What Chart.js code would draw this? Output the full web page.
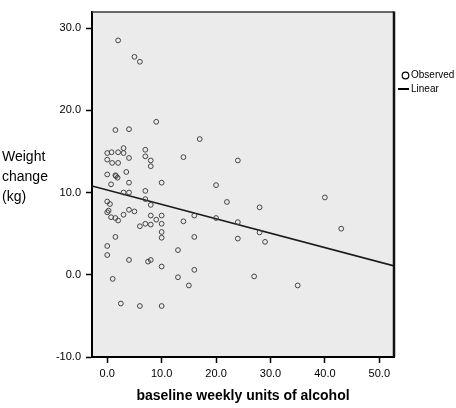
<!DOCTYPE html>
<html>
<head>
<meta charset="utf-8">
<script src="https://cdn.jsdelivr.net/npm/chart.js@4/dist/chart.umd.min.js"></script>
<style>
  html, body { margin: 0; padding: 0; background: #fff; }
  #wrap { width: 456px; height: 408px; }
</style>
</head>
<body>
<div id="wrap"><canvas id="grafica" width="456" height="408"></canvas></div>
<script>
// baseline weekly units of alcohol
const alcohol = [2, 5, 6, 1.5, 4, 9, 17, 3, 0, 0.8, 2, 3, 0, 0.9, 2, 4, 7, 7, 8, 8, 14, 24,
  0, 1.5, 1.6, 1.9, 3.5, 0.7, 4, 10, 20, 3, 4, 7, 7, 40, 0, 0.5, 8, 22, 28,
  0, 0.25, 0.7, 1.5, 2, 3, 4, 5, 8, 10, 9, 10, 8, 7, 6, 16, 20, 14, 24, 28, 43,
  10, 10, 1.5, 16, 24, 29, 0, 13, 0, 4, 7.5, 8, 10, 16, 1, 13, 15, 27, 35, 2.5, 6, 10];
// weight change (kg)
const weight = [28.5, 26.5, 25.9, 17.6, 17.7, 18.6, 16.5, 15.4, 14.8, 14.9, 14.9, 14.8, 14.0, 13.6, 13.6, 14.2, 15.2, 14.4, 13.9, 13.2, 14.3, 13.9,
  12.2, 12.1, 12.0, 11.8, 12.5, 11.0, 11.2, 11.2, 10.9, 10.0, 10.0, 10.2, 9.2, 9.4, 8.9, 8.6, 8.5, 8.85, 8.2,
  7.6, 7.8, 7.0, 6.9, 6.6, 7.3, 7.9, 7.7, 7.2, 7.2, 6.7, 6.2, 6.1, 6.2, 5.9, 7.2, 6.9, 6.5, 6.4, 5.15, 5.6,
  5.2, 4.5, 4.6, 4.6, 4.4, 4.0, 3.5, 3.0, 2.4, 1.8, 1.6, 1.8, 1.0, 0.6, -0.5, -0.3, -1.3, -0.2, -1.3, -3.5, -3.8, -3.8];

// linear fit
const fitIntercept = 10.3;
const fitSlope = -0.175;

const xTicks = [0, 10, 20, 30, 40, 50];
const yTicks = [-10, 0, 10, 20, 30];
const xRange = [-2.8, 52.7];
const yRange = [-10, 32];

const puntos = alcohol.map((a, i) => ({ x: a, y: weight[i] }));
const recta = xRange.map(x => ({ x: x, y: fitIntercept + fitSlope * x }));

const marco = {
  id: 'marco',
  beforeDraw(chart) {
    const { ctx, chartArea: a } = chart;
    ctx.save();
    ctx.fillStyle = '#ebebeb';
    ctx.fillRect(a.left, a.top, a.right - a.left, a.bottom - a.top);
    ctx.restore();
  },
  afterDraw(chart) {
    const { ctx, chartArea: a } = chart;
    ctx.save();
    ctx.strokeStyle = '#3a3a3a';
    ctx.lineWidth = 1.5;
    ctx.beginPath();
    ctx.moveTo(a.left, a.top + 0.5);
    ctx.lineTo(a.right, a.top + 0.5);
    ctx.stroke();
    ctx.strokeStyle = '#111';
    ctx.lineWidth = 2.5;
    ctx.beginPath();
    ctx.moveTo(a.right, a.top);
    ctx.lineTo(a.right, a.bottom);
    ctx.stroke();

    // y title
    ctx.fillStyle = '#000';
    ctx.font = '14px "Liberation Sans", Arial, sans-serif';
    ctx.textBaseline = 'middle';
    ctx.textAlign = 'left';
    ['Weight', 'change', '(kg)'].forEach((t, i) => ctx.fillText(t, 2, 157 + i * 20));

    // legend
    ctx.font = '10px "Liberation Sans", Arial, sans-serif';
    ctx.strokeStyle = '#000';
    ctx.lineWidth = 1.2;
    ctx.beginPath();
    ctx.arc(405.5, 75.5, 3.3, 0, Math.PI * 2);
    ctx.stroke();
    ctx.fillText(chart.data.datasets[0].label, 411, 75.5);
    ctx.lineWidth = 2;
    ctx.beginPath();
    ctx.moveTo(398, 89);
    ctx.lineTo(409, 89);
    ctx.stroke();
    ctx.fillText(chart.data.datasets[1].label, 411, 89);
    ctx.restore();
  }
};

new Chart(document.getElementById('grafica'), {
  type: 'scatter',
  data: {
    datasets: [{
      label: 'Observed',
      data: puntos,
      pointRadius: 2.4,
      pointBorderWidth: 1,
      pointBorderColor: '#444',
      pointBackgroundColor: 'rgba(0,0,0,0)',
      showLine: false
    }, {
      label: 'Linear',
      type: 'line',
      data: recta,
      borderColor: '#1a1a1a',
      borderWidth: 1.5,
      pointRadius: 0,
      fill: false
    }]
  },
  options: {
    responsive: false,
    animation: false,
    layout: { padding: { left: 0, right: 62, top: 1, bottom: 0 } },
    plugins: { legend: { display: false }, tooltip: { enabled: false } },
    scales: {
      x: {
        type: 'linear',
        min: xRange[0],
        max: xRange[1],
        afterBuildTicks: s => { s.ticks = xTicks.map(v => ({ value: v })); },
        afterFit: s => { s.height = 51; },
        grid: { drawOnChartArea: false, drawTicks: true, tickLength: 6, tickColor: '#000', tickWidth: 1.5 },
        border: { display: true, color: '#000', width: 2 },
        ticks: {
          padding: 4,
          color: '#000',
          font: { family: '"Liberation Sans", Arial, sans-serif', size: 11 },
          callback: v => v.toFixed(1)
        },
        title: {
          display: true,
          text: 'baseline weekly units of alcohol',
          color: '#000',
          font: { family: '"Liberation Sans", Arial, sans-serif', size: 14, weight: 'bold' },
          padding: { top: 0, bottom: 3 }
        }
      },
      y: {
        type: 'linear',
        min: yRange[0],
        max: yRange[1],
        afterBuildTicks: s => { s.ticks = yTicks.map(v => ({ value: v })); },
        afterFit: s => { s.width = 92; },
        grid: { drawOnChartArea: false, drawTicks: true, tickLength: 6, tickColor: '#000', tickWidth: 1.5 },
        border: { display: true, color: '#000', width: 2 },
        ticks: {
          padding: 5,
          color: '#000',
          font: { family: '"Liberation Sans", Arial, sans-serif', size: 11 },
          callback: v => v.toFixed(1)
        }
      }
    }
  },
  plugins: [marco]
});
</script>
</body>
</html>
